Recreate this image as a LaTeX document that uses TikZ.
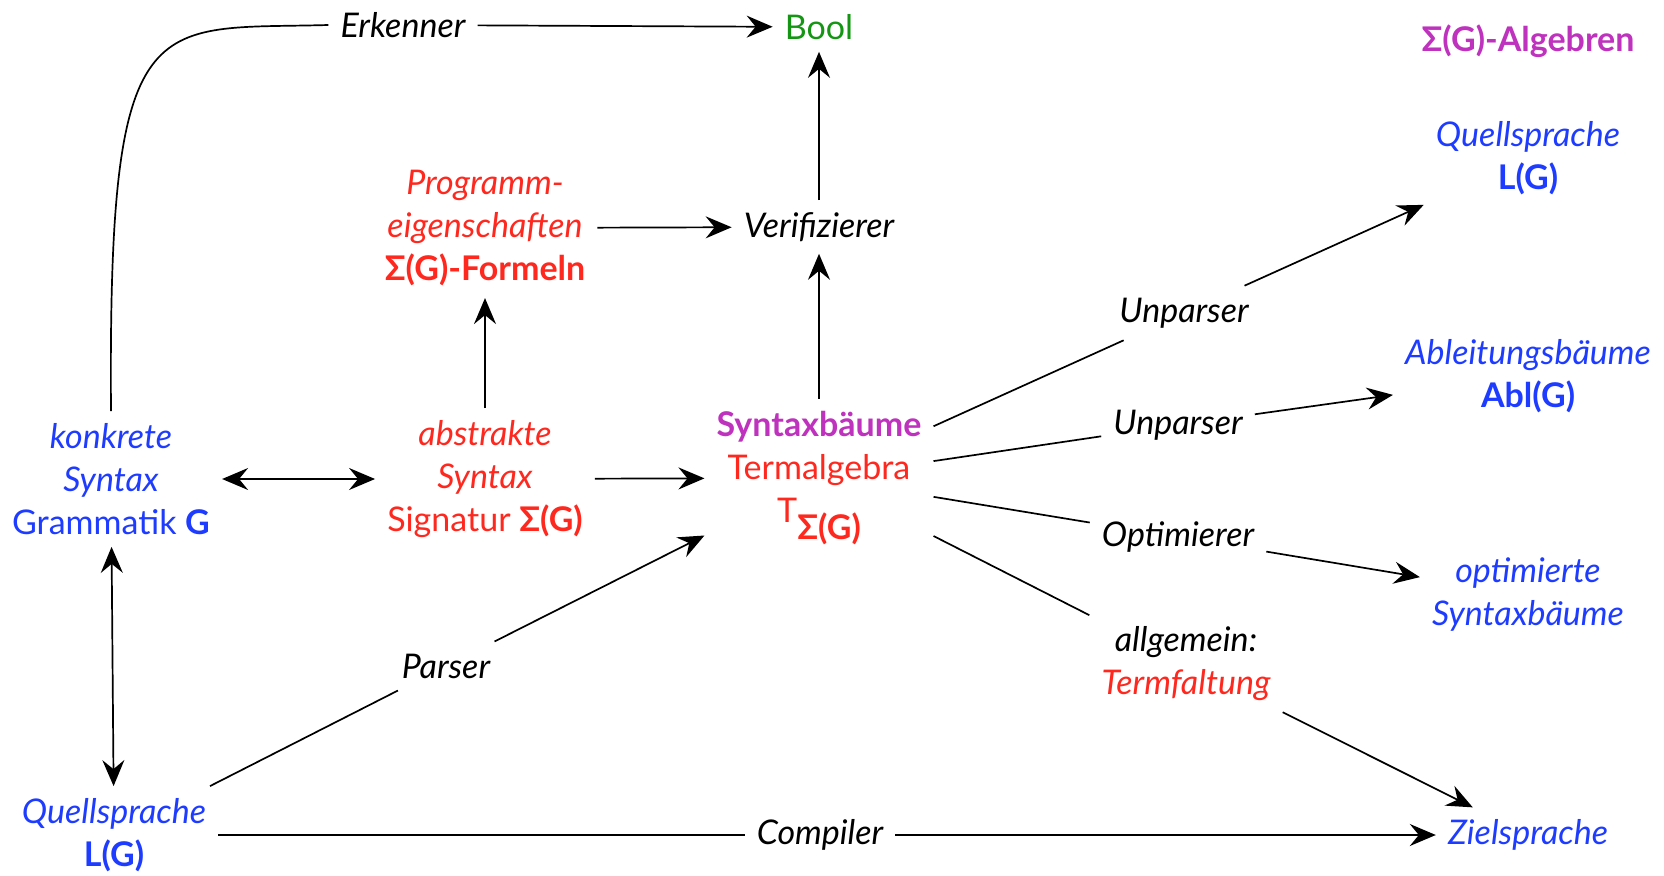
\documentclass[tikz,border=0pt]{standalone}
\usepackage{fontspec}
\setmainfont{Lato}
\usetikzlibrary{arrows.meta}
\definecolor{cblue}{RGB}{30,60,255}
\definecolor{cred}{RGB}{255,40,30}
\definecolor{cmag}{RGB}{190,50,190}
\definecolor{cgreen}{RGB}{20,150,20}
\begin{document}
\begin{tikzpicture}[x=1pt,y=-1pt,
  every node/.style={font=\fontsize{34}{43}\selectfont, align=center, inner sep=12pt},
  ln/.style={line width=1.7pt},
  arr/.style={ln,-{Stealth[length=26pt,width=22pt,inset=9pt]}},
  dbl/.style={ln,{Stealth[length=26pt,width=22pt,inset=9pt]}-{Stealth[length=26pt,width=22pt,inset=9pt]}}]
\useasboundingbox (0,0) rectangle (1664,875);
\node[text=cgreen] (bool) at (819,27) {Bool};
\node (erk) at (403,25) {\itshape Erkenner};
\node[text=cmag] (alg) at (1528,41) {\bfseries Σ(G)-Algebren};
\node[text=cblue] (qst) at (1528,158) {{\itshape Quellsprache}\\{\bfseries L(G)}};
\node[text=cred] (prog) at (485,228) {{\itshape Programm-}\\{\itshape eigenschaften}\\{\bfseries Σ(G)-Formeln}};
\node (ver) at (819,227) {\itshape Verifizierer};
\node[text=cblue] (konk) at (111,479) {{\itshape konkrete}\\{\itshape Syntax}\\Grammatik \textbf{G}};
\node[text=cred] (abs) at (485,479) {{\itshape abstrakte}\\{\itshape Syntax}\\Signatur \textbf{Σ(G)}};
\node[text=cred] (term) at (819,478) {{\bfseries\color{cmag}Syntaxbäume}\\Termalgebra\\T\raisebox{-0.5em}{\bfseries Σ(G)}};
\node[text=cblue] (qsb) at (114,835) {{\itshape Quellsprache}\\{\bfseries L(G)}};
\node (pars) at (446,666) {\itshape Parser};
\node (comp) at (820,835) {\itshape Compiler};
\node[text=cblue] (ziel) at (1528,835) {\itshape Zielsprache};
\node (unp1) at (1184,313) {\itshape Unparser};
\node (unp2) at (1178,425) {\itshape Unparser};
\node[text=cblue] (abl) at (1528,376) {{\itshape Ableitungsbäume}\\{\bfseries Abl(G)}};
\node (opt) at (1178,537) {\itshape Optimierer};
\node[text=cblue] (optsb) at (1528,595) {{\itshape optimierte}\\{\itshape Syntaxbäume}};
\node (allg) at (1186,664) {{\itshape allgemein:}\\{\itshape\color{cred}Termfaltung}};
\draw[ln] (konk.north) .. controls (108,0) and (150,30) .. (erk.west);
\draw[arr] (erk) -- (bool);
\draw[arr] (ver) -- (bool);
\draw[arr] (prog) -- (ver);
\draw[arr] (abs) -- (prog);
\draw[arr] (term) -- (ver);
\draw[dbl] (konk) -- (abs);
\draw[arr] (abs) -- (term);
\draw[dbl] (konk) -- (qsb);
\draw[ln] (qsb) -- (pars);
\draw[arr] (pars) -- (term);
\draw[ln] (qsb) -- (comp);
\draw[arr] (comp) -- (ziel);
\draw[ln] (term) -- (unp1);
\draw[arr] (unp1) -- (qst);
\draw[ln] (term) -- (unp2);
\draw[arr] (unp2) -- (abl);
\draw[ln] (term) -- (opt);
\draw[arr] (opt) -- (optsb);
\draw[ln] (term) -- (allg);
\draw[arr] (allg) -- (ziel);
\end{tikzpicture}
\end{document}
